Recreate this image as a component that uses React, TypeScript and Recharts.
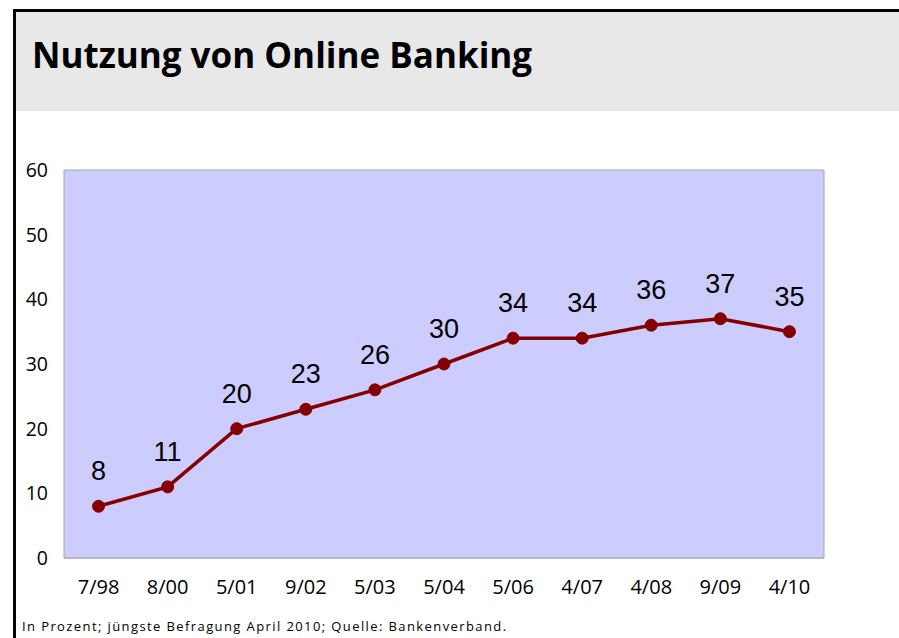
import React from "react";
import { LineChart, Line, XAxis, YAxis, CartesianGrid, LabelList } from "recharts";

const categories = ["7/98", "8/00", "5/01", "9/02", "5/03", "5/04", "5/06", "4/07", "4/08", "9/09", "4/10"];
const values = [8, 11, 20, 23, 26, 30, 34, 34, 36, 37, 35];
const yTicks = [0, 10, 20, 30, 40, 50, 60];

const title = "Nutzung von Online Banking";
const footnote = "In Prozent; jüngste Befragung April 2010; Quelle: Bankenverband.";

const data = categories.map((c, i) => ({ name: c, value: values[i] }));

const renderLabel = (props: any) => {
  const { x, y, value } = props;
  return (
    <text
      x={x}
      y={y - 26}
      textAnchor="middle"
      fontFamily="'Liberation Sans', Arial, sans-serif"
      fontSize={27}
      fill="#000"
    >
      {value}
    </text>
  );
};

export default function App() {
  return (
    <div style={{ position: "absolute", left: 0, top: 0, width: 899, height: 638, background: "#fff", overflow: "hidden" }}>
      <div style={{ position: "absolute", left: 13, top: 9, width: 886, height: 3, background: "#000" }} />
      <div style={{ position: "absolute", left: 13, top: 9, width: 3, height: 629, background: "#000" }} />
      <div style={{ position: "absolute", left: 16, top: 12, width: 883, height: 99, background: "#e8e8e8" }} />
      <div
        style={{
          position: "absolute",
          left: 32,
          top: 33,
          fontFamily: "'Open Sans', sans-serif",
          fontWeight: 700,
          fontSize: 35,
          lineHeight: "44px",
          color: "#000",
          whiteSpace: "nowrap",
        }}
      >
        {title}
      </div>
      <div style={{ position: "absolute", left: 0, top: 0 }}>
        <LineChart width={899} height={638} data={data} margin={{ top: 170, right: 35, bottom: 50, left: 24 }}>
          <CartesianGrid vertical={false} stroke="#a6a6a6" fill="#ccccff" fillOpacity={1} />
          <XAxis
            dataKey="name"
            scale="band"
            height={30}
            tickSize={0}
            tickMargin={22}
            axisLine={{ stroke: "#b8b8b8", strokeWidth: 2 }}
            tick={{ fill: "#000", fontSize: 20, fontFamily: "'Open Sans', sans-serif" }}
            interval={0}
          />
          <YAxis
            yAxisId="left"
            width={40}
            domain={[0, 60]}
            ticks={yTicks}
            tickSize={0}
            tickMargin={16}
            axisLine={{ stroke: "#a6a6a6" }}
            tick={{ fill: "#000", fontSize: 19.5, fontFamily: "'Open Sans', sans-serif" }}
          />
          <YAxis
            yAxisId="right"
            orientation="right"
            width={40}
            domain={[0, 60]}
            ticks={yTicks}
            tick={false}
            tickLine={false}
            axisLine={{ stroke: "#a6a6a6" }}
          />
          <Line
            yAxisId="left"
            type="linear"
            dataKey="value"
            stroke="#850000"
            strokeWidth={3.5}
            dot={{ r: 6, fill: "#850000", stroke: "#850000", strokeWidth: 1 }}
            isAnimationActive={false}
          >
            <LabelList dataKey="value" content={renderLabel} />
          </Line>
        </LineChart>
      </div>
      <div
        style={{
          position: "absolute",
          left: 22,
          top: 617,
          fontFamily: "'Open Sans', sans-serif",
          fontSize: 13,
          lineHeight: "18px",
          letterSpacing: 1.4,
          color: "#000",
          whiteSpace: "nowrap",
        }}
      >
        {footnote}
      </div>
    </div>
  );
}
